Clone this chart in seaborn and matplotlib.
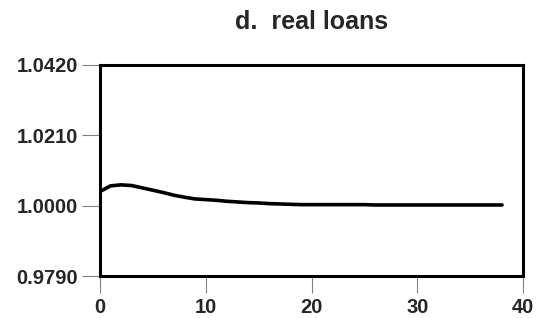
import matplotlib as mpl
import matplotlib.pyplot as plt
import seaborn as sns
import numpy as np
import pandas as pd

# impulse response
quarters = list(range(39))
real_loans = [1.0042, 1.0059, 1.0062, 1.0060, 1.0053, 1.0046, 1.0039, 1.0031,
              1.0025, 1.0020, 1.0018, 1.0016, 1.0013, 1.0011, 1.0009, 1.0008,
              1.0006, 1.0005, 1.0004, 1.0003, 1.0003, 1.0003, 1.0003, 1.0003,
              1.0003, 1.0003, 1.0002, 1.0002, 1.0002, 1.0002, 1.0002, 1.0002,
              1.0002, 1.0002, 1.0002, 1.0002, 1.0002, 1.0002, 1.0002]
yticks = [0.9790, 1.0000, 1.0210, 1.0420]
xticks = [0, 10, 20, 30, 40]

sns.set_style('white')
plt.rcParams['font.family'] = ['Liberation Sans', 'DejaVu Sans']

df = pd.DataFrame({'t': quarters, 'v': real_loans})

fig = plt.figure(figsize=(5.49, 3.18), dpi=100)
ax = fig.add_axes([0.182, 0.132, 0.771, 0.664])
sns.lineplot(data=df, x='t', y='v', ax=ax, color='black', lw=2.6)

ax.set_xlim(0, 40)
ax.set_ylim(yticks[0], yticks[-1])
ax.set_xticks(xticks)
ax.set_yticks(yticks)
ax.set_yticklabels([f'{y:.4f}' for y in yticks])
ax.set_xlabel('')
ax.set_ylabel('')
ax.set_title('d.  real loans', fontsize=18, fontweight='bold', pad=26)

for s in ax.spines.values():
    s.set_visible(True)
    s.set_linewidth(2.2)
    s.set_color('black')
ax.tick_params(axis='y', direction='out', length=13, width=0.8, color='grey',
               labelsize=14.5, pad=3)
ax.tick_params(axis='x', direction='out', length=12, width=0.8, color='grey',
               labelsize=14.5, pad=4)
ax.tick_params(bottom=True, left=True, top=False, right=False)
for lab in ax.get_xticklabels() + ax.get_yticklabels():
    lab.set_fontweight('bold')

plt.savefig('out.png', dpi=100)
